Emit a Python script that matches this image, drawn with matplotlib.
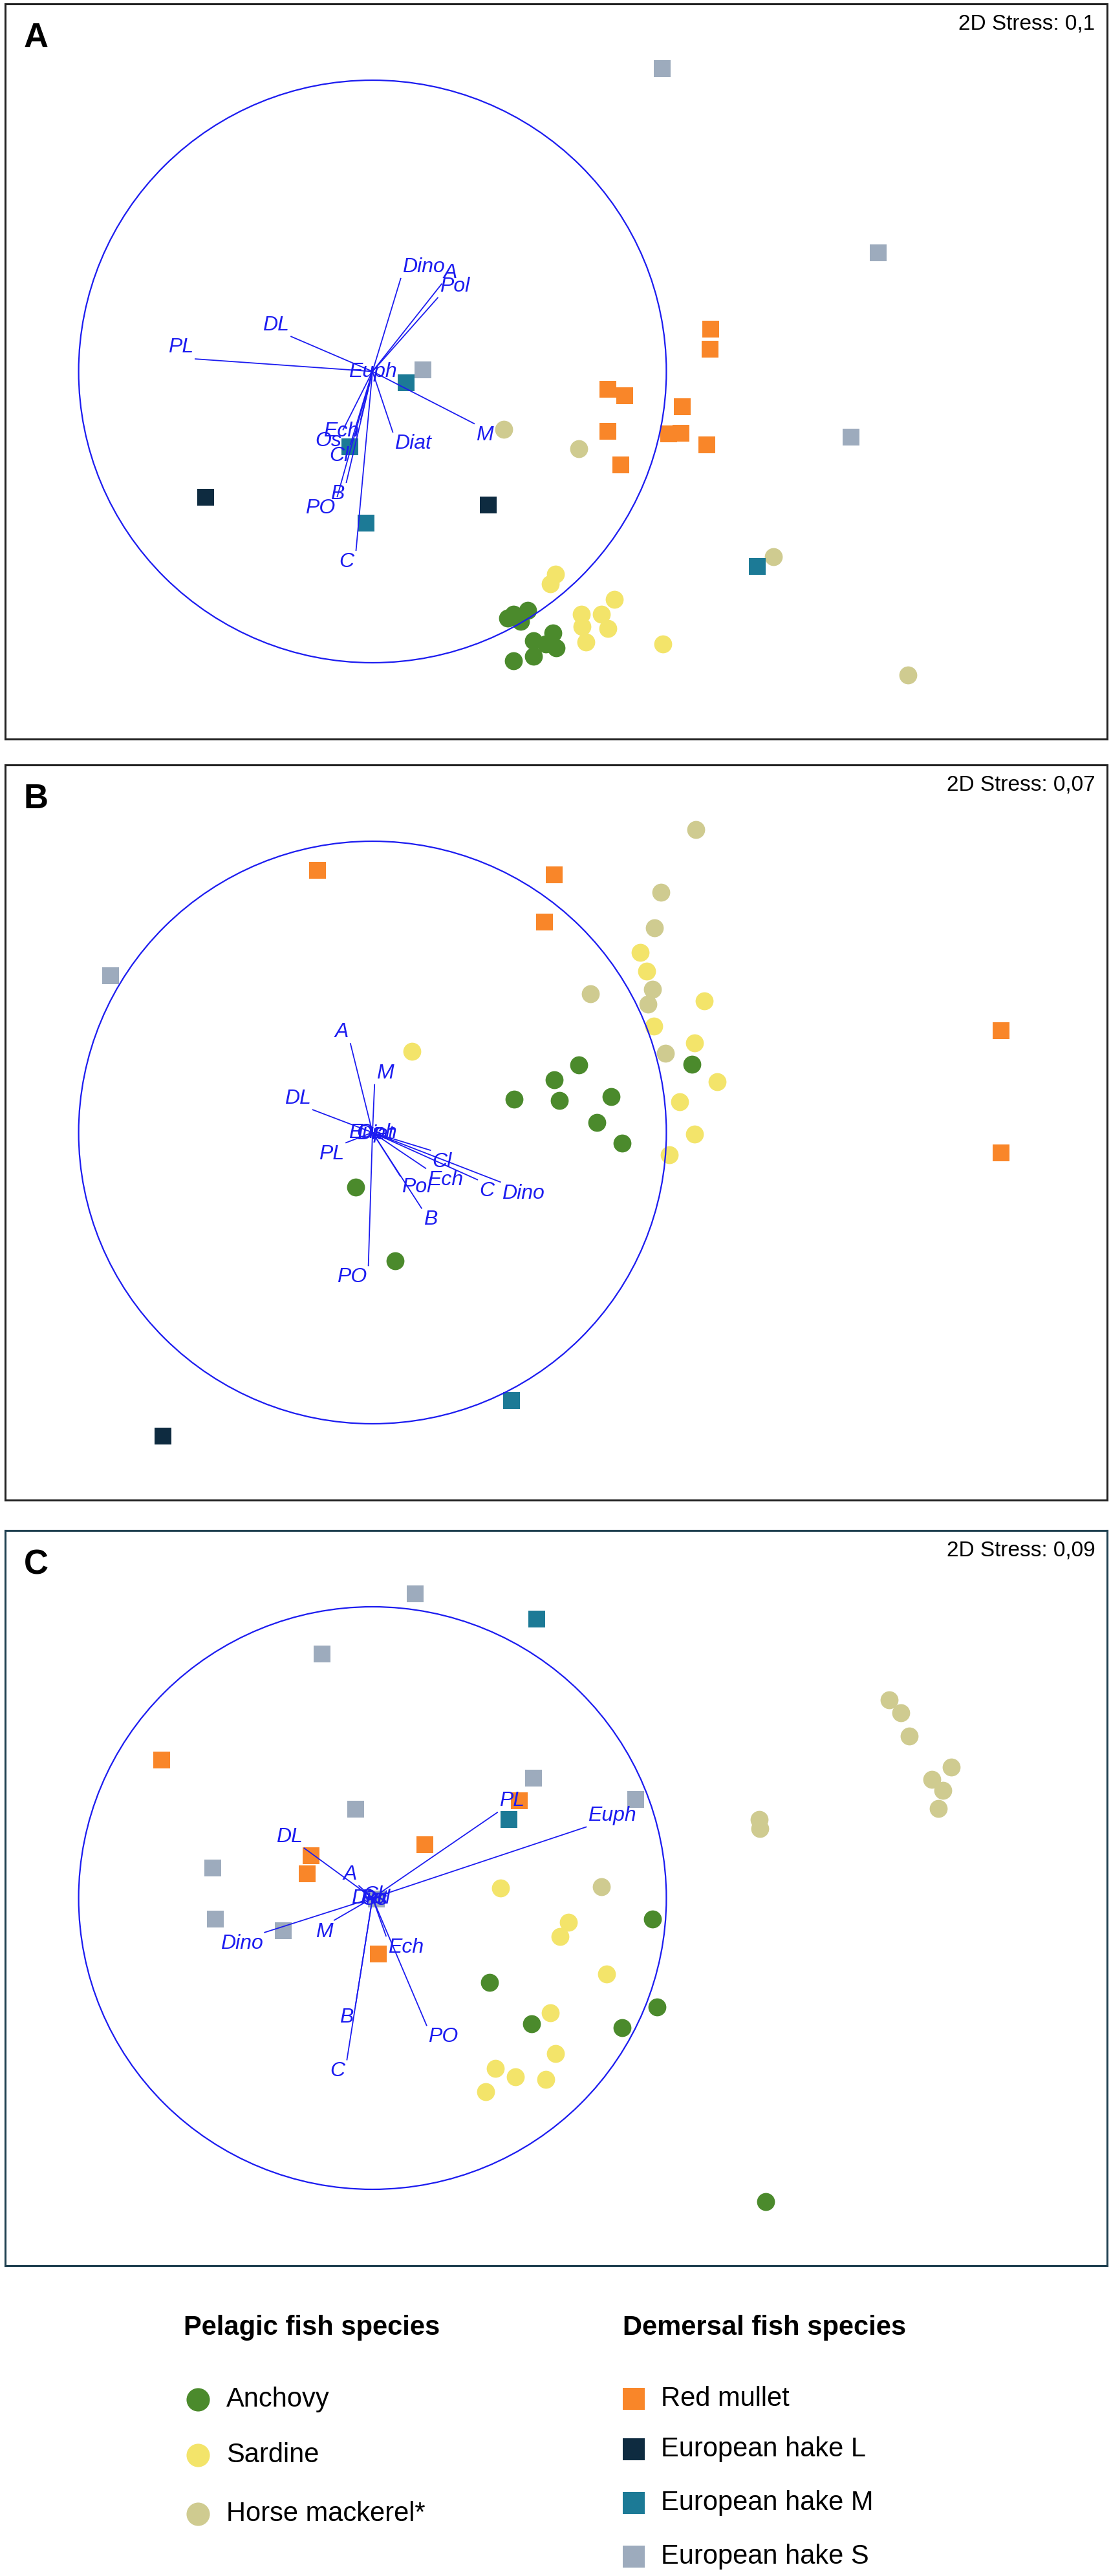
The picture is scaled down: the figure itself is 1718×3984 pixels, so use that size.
import matplotlib.pyplot as plt
import numpy as np
from matplotlib.patches import Circle

# --- data: nMDS coordinates (unit = radius of correlation circle) ---
# panel A
A_anchovy = [(0.480, -0.834), (0.528, -0.821), (0.504, -0.859), (0.548, -0.924), (0.613, -0.899),
             (0.625, -0.948), (0.589, -0.935), (0.548, -0.977), (0.480, -0.994), (0.461, -0.847)]
A_sardine = [(0.623, -0.696), (0.606, -0.729), (0.822, -0.782), (0.710, -0.834), (0.778, -0.834),
             (0.713, -0.875), (0.800, -0.883), (0.727, -0.929), (0.989, -0.935)]
A_horse = [(0.446, -0.198), (0.703, -0.265), (1.365, -0.635), (1.823, -1.042)]
A_mullet = [(1.152, 0.146), (1.149, 0.076), (0.800, -0.060), (0.858, -0.084), (1.055, -0.120),
            (0.802, -0.206), (1.008, -0.214), (1.050, -0.213), (1.137, -0.253), (0.846, -0.320)]
A_hakeL = [(-0.567, -0.432), (0.395, -0.459)]
A_hakeM = [(0.114, -0.039), (-0.078, -0.258), (-0.022, -0.521), (1.309, -0.669)]
A_hakeS = [(0.987, 1.041), (1.721, 0.407), (1.629, -0.226), (0.172, 0.005)]
A_vec_names = ['PL', 'DL', 'Dino', 'A', 'Pol', 'Euph', 'M', 'Diat', 'C', 'B', 'PO', 'Ech', 'Os', 'Cl']
A_vec_x = [-0.603, -0.277, 0.096, 0.235, 0.222, 0.0, 0.346, 0.069, -0.056, -0.089, -0.120, -0.040, -0.100, -0.075]
A_vec_y = [0.043, 0.120, 0.319, 0.300, 0.253, 0.0, -0.179, -0.208, -0.614, -0.381, -0.430, -0.165, -0.200, -0.250]

# panel B
B_anchovy = [(0.703, 0.233), (0.618, 0.182), (0.481, 0.115), (0.635, 0.110), (0.812, 0.123),
             (0.763, 0.035), (0.850, -0.037), (1.087, 0.234), (-0.058, -0.187), (0.077, -0.440)]
B_sardine = [(0.911, 0.619), (0.932, 0.553), (1.128, 0.452), (0.957, 0.366), (1.097, 0.307),
             (1.174, 0.175), (1.046, 0.106), (1.097, -0.005), (1.010, -0.076), (0.135, 0.278)]
B_horse = [(1.101, 1.040), (0.981, 0.825), (0.959, 0.703), (0.952, 0.491), (0.937, 0.440),
           (0.742, 0.476), (0.998, 0.272)]
B_mullet = [(-0.188, 0.901), (0.618, 0.884), (0.585, 0.722), (2.140, 0.349), (2.140, -0.071)]
B_hakeL = [(-0.713, -1.042)]
B_hakeM = [(0.473, -0.921)]
B_hakeS = [(-0.891, 0.538)]
B_vec_names = ['A', 'M', 'DL', 'PL', 'PO', 'B', 'Pol', 'Ech', 'Cl', 'C', 'Dino', 'Euph', 'Diat', 'Os']
B_vec_x = [-0.075, 0.007, -0.203, -0.090, -0.014, 0.167, 0.094, 0.181, 0.197, 0.357, 0.435, 0.0, 0.01, -0.01]
B_vec_y = [0.305, 0.164, 0.078, -0.035, -0.457, -0.260, -0.149, -0.123, -0.061, -0.162, -0.170, 0.0, -0.005, 0.0]

# panel C
C_anchovy = [(0.952, -0.072), (0.399, -0.289), (0.969, -0.375), (0.541, -0.432), (0.850, -0.444),
             (1.338, -1.042)]
C_sardine = [(0.435, 0.035), (0.667, -0.084), (0.638, -0.131), (0.797, -0.261), (0.606, -0.395),
             (0.623, -0.534), (0.418, -0.585), (0.486, -0.613), (0.589, -0.622), (0.386, -0.664)]
C_horse = [(1.758, 0.681), (1.797, 0.635), (1.826, 0.555), (1.969, 0.450), (1.903, 0.408),
           (1.940, 0.370), (1.925, 0.308), (1.316, 0.269), (1.319, 0.239), (0.778, 0.039)]
C_mullet = [(-0.717, 0.474), (0.500, 0.333), (-0.208, 0.145), (-0.222, 0.084), (0.179, 0.183),
            (0.019, -0.192)]
C_hakeL = []
C_hakeM = [(0.558, 0.958), (0.464, 0.269)]
C_hakeS = [(0.145, 1.045), (-0.171, 0.837), (0.548, 0.412), (-0.058, 0.306), (0.896, 0.339),
           (-0.543, 0.104), (-0.534, -0.072), (-0.304, -0.113), (0.014, -0.003)]
C_vec_names = ['PL', 'Euph', 'DL', 'A', 'Dino', 'M', 'Ech', 'PO', 'B', 'C', 'Pol', 'Cl', 'Diat', 'Os']
C_vec_x = [0.425, 0.727, -0.232, -0.046, -0.367, -0.130, 0.046, 0.184, -0.058, -0.087, 0.01, 0.0, -0.01, 0.005]
C_vec_y = [0.294, 0.244, 0.171, 0.042, -0.118, -0.076, -0.130, -0.437, -0.370, -0.555, 0.0, 0.01, 0.0, -0.005]

stress = {'A': '2D Stress: 0,1', 'B': '2D Stress: 0,07', 'C': '2D Stress: 0,09'}

pelagic = ['Anchovy', 'Sardine', 'Horse mackerel*']
demersal = ['Red mullet', 'European hake L', 'European hake M', 'European hake S']
colors = {'Anchovy': '#4b8a2c', 'Sardine': '#f3e46a', 'Horse mackerel*': '#cfcb90',
          'Red mullet': '#f98629', 'European hake L': '#0e2b40',
          'European hake M': '#1c7a96', 'European hake S': '#9dabbd'}

panels = {
    'A': {'Anchovy': A_anchovy, 'Sardine': A_sardine, 'Horse mackerel*': A_horse, 'Red mullet': A_mullet,
          'European hake L': A_hakeL, 'European hake M': A_hakeM, 'European hake S': A_hakeS,
          'vec': (A_vec_names, A_vec_x, A_vec_y)},
    'B': {'Anchovy': B_anchovy, 'Sardine': B_sardine, 'Horse mackerel*': B_horse, 'Red mullet': B_mullet,
          'European hake L': B_hakeL, 'European hake M': B_hakeM, 'European hake S': B_hakeS,
          'vec': (B_vec_names, B_vec_x, B_vec_y)},
    'C': {'Anchovy': C_anchovy, 'Sardine': C_sardine, 'Horse mackerel*': C_horse, 'Red mullet': C_mullet,
          'European hake L': C_hakeL, 'European hake M': C_hakeM, 'European hake S': C_hakeS,
          'vec': (C_vec_names, C_vec_x, C_vec_y)},
}

plt.rcParams['font.family'] = ['Liberation Sans', 'DejaVu Sans']

W, H = 1718, 3984
fig = plt.figure(figsize=(W / 100, H / 100), dpi=100)
blue = '#1c1cf0'

tops = {'A': 6, 'B': 1183, 'C': 2367}
ph, pw, pleft = 1137, 1704, 8
frame_col = {'A': '#222222', 'B': '#222222', 'C': '#1f4050'}

for key, d in panels.items():
    ax = fig.add_axes([pleft / W, 1 - (tops[key] + ph) / H, pw / W, ph / H])
    ax.set_xlim(-1.25, 2.5)
    ax.set_ylim(-1.262, 1.262)
    ax.set_xticks([])
    ax.set_yticks([])
    for s in ax.spines.values():
        s.set_color(frame_col[key])
        s.set_linewidth(2.2)

    # samples
    for sp in pelagic + demersal:
        pts = d[sp]
        if not pts:
            continue
        xs, ys = zip(*pts)
        m = 'o' if sp in pelagic else 's'
        size = 400 if sp in pelagic else 370
        ax.scatter(xs, ys, s=size, marker=m, color=colors[sp], linewidths=0, zorder=2)

    # correlation circle and vectors
    ax.add_patch(Circle((0, 0), 1.0, fill=False, color=blue, lw=1.6, zorder=3))
    names, vx, vy = d['vec']
    for nm, dx, dy in zip(names, vx, vy):
        ax.plot([0, dx], [0, dy], color=blue, lw=1.3, zorder=3)
        if np.hypot(dx, dy) < 0.05:
            ha, va, off = 'center', 'center', (0, 0)
        else:
            ha = 'left' if dx >= 0 else 'right'
            va = 'bottom' if dy >= 0 else 'top'
            off = (2 if dx >= 0 else -2, 2 if dy >= 0 else -2)
        ax.annotate(nm, (dx, dy), xytext=off, textcoords='offset points', ha=ha, va=va,
                    fontsize=23, fontstyle='italic', color=blue, zorder=4)

    ax.text(0.989, 0.986, stress[key], transform=ax.transAxes, ha='right', va='top', fontsize=24)
    ax.text(0.017, 0.975, key, transform=ax.transAxes, ha='left', va='top',
            fontsize=38, fontweight='bold')

# legend
def fx(px):
    return px / W

def fy(py):
    return 1 - py / H

lax = fig.add_axes([0, 0, 1, 1], facecolor='none')
lax.set_xlim(0, 1)
lax.set_ylim(0, 1)
lax.axis('off')

fig.text(fx(284), fy(3600), 'Pelagic fish species', fontsize=30, fontweight='bold', va='center')
fig.text(fx(963), fy(3600), 'Demersal fish species', fontsize=30, fontweight='bold', va='center')
for sp, py in zip(pelagic, [3711, 3797, 3888]):
    lax.scatter([fx(306)], [fy(py)], s=26 ** 2, marker='o', color=colors[sp], linewidths=0)
    fig.text(fx(350), fy(py), sp, fontsize=30, va='center')
for sp, py in zip(demersal, [3710, 3788, 3871, 3954]):
    lax.scatter([fx(980)], [fy(py)], s=24 ** 2, marker='s', color=colors[sp], linewidths=0)
    fig.text(fx(1022), fy(py), sp, fontsize=30, va='center')

fig.savefig('out.png', dpi=100, facecolor='white')
